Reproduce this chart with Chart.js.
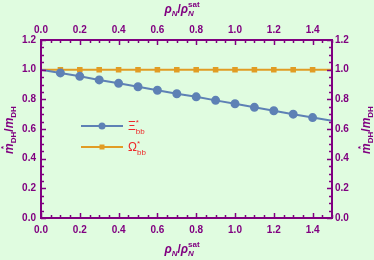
<!DOCTYPE html>
<html><head><meta charset="utf-8">
<script src="https://cdn.jsdelivr.net/npm/chart.js@4/dist/chart.umd.min.js"></script>
<style>html,body{margin:0;padding:0;background:#E0FCE0;overflow:hidden}#w{width:374px;height:260px;position:relative}</style>
</head><body><div id="w"><canvas id="c"></canvas></div>
<script>
// ---- data ----
const xValues = [0, 0.1, 0.2, 0.3, 0.4, 0.5, 0.6, 0.7, 0.8, 0.9, 1.0, 1.1, 1.2, 1.3, 1.4, 1.5];
const xiValues = [1.0, 0.978, 0.955, 0.931, 0.908, 0.885, 0.861, 0.838, 0.817, 0.793, 0.770, 0.746, 0.723, 0.700, 0.677, 0.655];
const omegaValues = [1.0, 1.0, 1.0, 1.0, 1.0, 1.0, 1.0, 1.0, 1.0, 1.0, 1.0, 1.0, 1.0, 1.0, 1.0, 1.0];
const xTicks = [0, 0.2, 0.4, 0.6, 0.8, 1.0, 1.2, 1.4];
const yTicks = [0, 0.2, 0.4, 0.6, 0.8, 1.0, 1.2];

const PURPLE = '#800080';
const BLUE = '#5E81B5';
const ORANGE = '#E19C24';
const RED = '#EE2A2A';
const FONT = '"Liberation Sans", Arial, sans-serif';

const pts = ys => xValues.map((x, i) => ({x, y: ys[i]}));
const radii = (r) => xValues.map((x, i) => (i === 0 || i === xValues.length - 1) ? 0 : r);

function rich(ctx, segs, x, y, align, color) {
  let w = 0;
  segs.forEach(s => { ctx.font = s.f; w += ctx.measureText(s.t).width + (s.gap || 0); });
  let cx = align === 'center' ? x - w / 2 : x;
  ctx.fillStyle = color;
  ctx.textBaseline = 'alphabetic';
  ctx.textAlign = 'left';
  segs.forEach(s => {
    ctx.font = s.f;
    if (s.sx !== undefined) { ctx.fillText(s.t, cx + s.sx, y + (s.dy || 0)); return; }
    ctx.fillText(s.t, cx, y + (s.dy || 0));
    cx += ctx.measureText(s.t).width + (s.gap || 0);
  });
}

const xTitle = [
  {t: 'ρ', f: 'italic bold 12px ' + FONT},
  {t: 'N', f: 'italic bold 8px ' + FONT, dy: 3},
  {t: '/', f: 'bold 12px ' + FONT},
  {t: 'ρ', f: 'italic bold 12px ' + FONT},
  {t: 'sat', f: 'bold 8px ' + FONT, dy: -6, sx: 0.5},
  {t: 'N', f: 'italic bold 8px ' + FONT, dy: 3}
];
// fix layout of sup/sub stacking: draw 'sat' above N at same x
const xTitleSegs = [
  {t: 'ρ', f: 'italic bold 12px ' + FONT},
  {t: 'N', f: 'italic bold 8px ' + FONT, dy: 3},
  {t: '/', f: 'bold 12px ' + FONT},
  {t: 'ρ', f: 'italic bold 12px ' + FONT},
  {t: 'sat', f: 'bold 8px ' + FONT, dy: -6, sx: 0},
  {t: 'N', f: 'italic bold 8px ' + FONT, dy: 3}
];
function drawXTitle(ctx, cx, y) {
  // compute width manually
  ctx.save();
  const f1 = 'italic bold 12px ' + FONT, f2 = 'italic bold 8px ' + FONT, f3 = 'bold 12px ' + FONT, f4 = 'bold 8px ' + FONT;
  ctx.font = f1; const wr = ctx.measureText('ρ').width;
  ctx.font = f2; const wn = ctx.measureText('N').width;
  ctx.font = f3; const ws = ctx.measureText('/').width;
  ctx.font = f4; const wsat = ctx.measureText('sat').width;
  const total = wr + wn + ws + wr + Math.max(wn, wsat);
  let x = cx - total / 2;
  ctx.fillStyle = PURPLE; ctx.textBaseline = 'alphabetic'; ctx.textAlign = 'left';
  ctx.font = f1; ctx.fillText('ρ', x, y); x += wr;
  ctx.font = f2; ctx.fillText('N', x, y + 3); x += wn;
  ctx.font = f3; ctx.fillText('/', x, y); x += ws;
  ctx.font = f1; ctx.fillText('ρ', x, y); x += wr;
  ctx.font = f2; ctx.fillText('N', x, y + 3);
  ctx.font = f4; ctx.fillText('sat', x, y - 6);
  ctx.restore();
}
function drawYTitle(ctx, cx, cy) {
  ctx.save();
  ctx.translate(cx, cy);
  ctx.rotate(-Math.PI / 2);
  const f1 = 'italic bold 12px ' + FONT, f2 = 'bold 8px ' + FONT, f3 = 'bold 12px ' + FONT;
  ctx.font = f1; const wm = ctx.measureText('m').width;
  ctx.font = f2; const wd = ctx.measureText('DH').width; const wst = ctx.measureText('*').width;
  ctx.font = f3; const ws = ctx.measureText('/').width;
  const total = wm + wd + ws + wm + wd;
  let x = -total / 2;
  ctx.fillStyle = PURPLE; ctx.textBaseline = 'alphabetic'; ctx.textAlign = 'left';
  ctx.font = f1; ctx.fillText('m', x, 0);
  ctx.font = f2; ctx.fillText('*', x + wm / 2 - wst / 2 + 1, -7);
  x += wm;
  ctx.font = f2; ctx.fillText('DH', x, 3); x += wd;
  ctx.font = f3; ctx.fillText('/', x, 0); x += ws;
  ctx.font = f1; ctx.fillText('m', x, 0); x += wm;
  ctx.font = f2; ctx.fillText('DH', x, 3);
  ctx.restore();
}
function drawLegendLabel(ctx, sym, x, y) {
  ctx.save();
  ctx.fillStyle = RED; ctx.textBaseline = 'alphabetic'; ctx.textAlign = 'left';
  ctx.font = '12px ' + FONT; const w = ctx.measureText(sym).width;
  ctx.fillText(sym, x, y);
  ctx.font = '8px ' + FONT;
  ctx.fillText('*', x + w, y - 5);
  ctx.fillText('bb', x + w, y + 4);
  ctx.restore();
}

const framePlugin = {
  id: 'frame',
  afterDraw(chart) {
    const ctx = chart.ctx, a = chart.chartArea;
    const xs = chart.scales.x, ys = chart.scales.y;
    ctx.save();
    ctx.strokeStyle = PURPLE;
    ctx.lineWidth = 1.5;
    ctx.beginPath();
    for (let k = 0; k <= 30; k++) {
      const v = k * 0.05;
      const px = Math.round(xs.getPixelForValue(v)) + 0.5;
      const L = (k % 4 === 0) ? 5 : 3;
      ctx.moveTo(px, a.bottom); ctx.lineTo(px, a.bottom - L);
      ctx.moveTo(px, a.top); ctx.lineTo(px, a.top + L);
    }
    for (let k = 0; k <= 24; k++) {
      const v = k * 0.05;
      const py = Math.round(ys.getPixelForValue(v)) + 0.5;
      const L = (k % 4 === 0) ? 5 : 3;
      ctx.moveTo(a.left, py); ctx.lineTo(a.left + L, py);
      ctx.moveTo(a.right, py); ctx.lineTo(a.right - L, py);
    }
    ctx.stroke();
    ctx.lineWidth = 2;
    ctx.strokeRect(a.left, a.top, a.right - a.left, a.bottom - a.top);

    // axis titles
    drawXTitle(ctx, 182, 13);
    drawXTitle(ctx, 182, 253);
    drawYTitle(ctx, 13, 130);
    drawYTitle(ctx, 370, 130);

    // legend
    ctx.lineWidth = 2;
    ctx.strokeStyle = BLUE;
    ctx.beginPath(); ctx.moveTo(81, 126); ctx.lineTo(123, 126); ctx.stroke();
    ctx.fillStyle = BLUE;
    ctx.beginPath(); ctx.arc(102, 126, 3.5, 0, Math.PI * 2); ctx.fill();
    ctx.strokeStyle = ORANGE;
    ctx.beginPath(); ctx.moveTo(81, 147); ctx.lineTo(123, 147); ctx.stroke();
    ctx.fillStyle = ORANGE;
    ctx.fillRect(99.5, 144.5, 5, 5);
    drawLegendLabel(ctx, 'Ξ', 128, 130);
    drawLegendLabel(ctx, 'Ω', 128, 151);
    ctx.restore();
  }
};

const tickFont = {family: FONT, size: 10, weight: 'bold'};
const fmt = v => Number(v).toFixed(1);
function mkX(pos, h, pad) {
  return {
    type: 'linear', position: pos, min: 0, max: 1.5,
    grid: {display: false, drawTicks: false}, border: {display: false},
    ticks: {color: PURPLE, font: tickFont, padding: pad, maxRotation: 0, autoSkip: false, callback: fmt},
    afterBuildTicks: s => { s.ticks = xTicks.map(v => ({value: v})); },
    afterFit: s => { s.height = h; }
  };
}
function mkY(pos, w, pad) {
  return {
    type: 'linear', position: pos, min: 0, max: 1.2,
    grid: {display: false, drawTicks: false}, border: {display: false},
    ticks: {color: PURPLE, font: tickFont, padding: pad, autoSkip: false, callback: fmt},
    afterBuildTicks: s => { s.ticks = yTicks.map(v => ({value: v})); },
    afterFit: s => { s.width = w; }
  };
}

new Chart(document.getElementById('c'), {
  type: 'line',
  data: {
    datasets: [
      {label: 'Xi', data: pts(xiValues), borderColor: BLUE, backgroundColor: BLUE, borderWidth: 2,
       pointRadius: radii(3.5), pointHoverRadius: 0, pointStyle: 'circle', tension: 0, xAxisID: 'x', yAxisID: 'y'},
      {label: 'Omega', data: pts(omegaValues), borderColor: ORANGE, backgroundColor: ORANGE, borderWidth: 2,
       pointRadius: radii(2.5), pointHoverRadius: 0, pointStyle: 'rect', tension: 0, xAxisID: 'x', yAxisID: 'y'}
    ]
  },
  options: {
    responsive: true, maintainAspectRatio: false, animation: false,
    layout: {padding: 0},
    plugins: {legend: {display: false}, tooltip: {enabled: false}},
    scales: {
      x: mkX('bottom', 42, 6),
      x2: mkX('top', 40, 4),
      y: mkY('left', 41, 5),
      y2: mkY('right', 42, 3)
    }
  },
  plugins: [framePlugin]
});
</script>
</body></html>
